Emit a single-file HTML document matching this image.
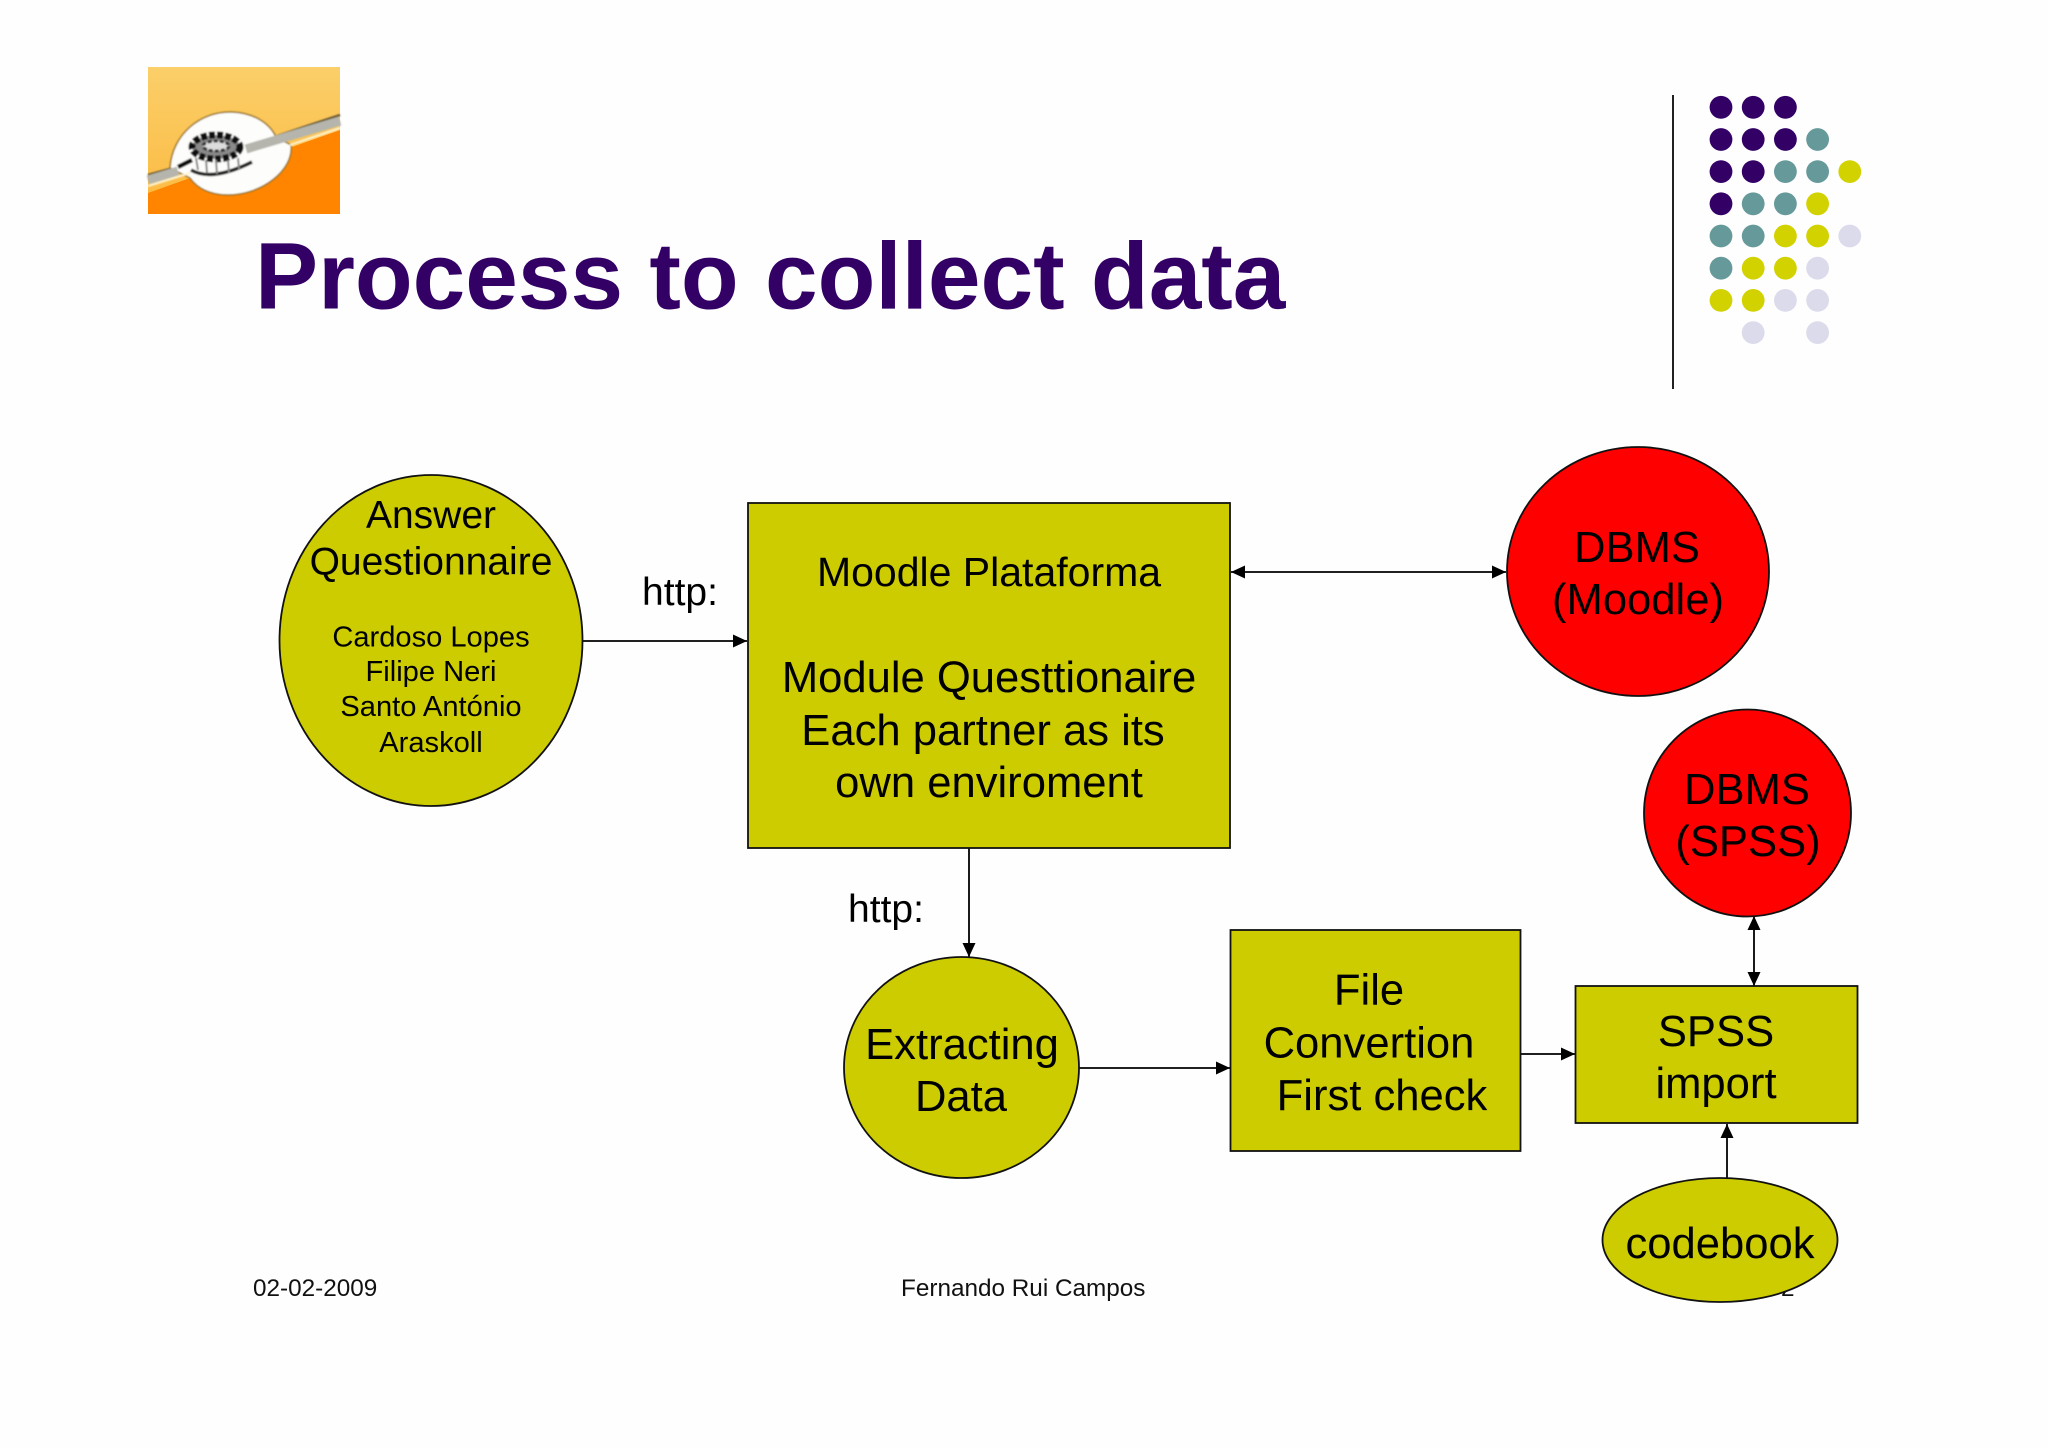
<!DOCTYPE html>
<html><head><meta charset="utf-8"><style>
html,body{margin:0;padding:0;background:#fefefe}
svg{display:block}
text{font-family:"Liberation Sans",sans-serif;fill:#000;font-size:43.6px;text-anchor:middle}
.s{font-size:29.1px}
.m{font-size:39px}
.f{font-size:24.3px;text-anchor:start;fill:#111}
.n{fill:#cccc00;stroke:#111;stroke-width:1.8}
.r{fill:#ff0000;stroke:#111;stroke-width:1.8}
.l{stroke:#000;stroke-width:1.8;fill:none}
</style></head><body>
<svg xmlns="http://www.w3.org/2000/svg" width="2048" height="1447" viewBox="0 0 2048 1447">
<defs>
<linearGradient id="g" x1="0" y1="0" x2="0" y2="1"><stop offset="0" stop-color="#fbcf6a"/><stop offset="1" stop-color="#fbb93f"/></linearGradient>
<marker id="a" markerWidth="14" markerHeight="14" refX="14" refY="6.5" orient="auto" markerUnits="userSpaceOnUse"><path d="M0 0L14 6.5L0 13z" fill="#000"/></marker>
<marker id="b" markerWidth="14" markerHeight="14" refX="0" refY="6.5" orient="auto" markerUnits="userSpaceOnUse"><path d="M14 0L0 6.5L14 13z" fill="#000"/></marker>
<filter id="bl" x="-5%" y="-5%" width="110%" height="110%"><feGaussianBlur stdDeviation="0.8"/></filter>
</defs>
<rect width="2048" height="1447" fill="#fefefe"/>

<!-- logo -->
<rect x="148" y="67" width="192" height="147" fill="url(#g)"/>
<path d="M148 193L190 178L292 147L340 130V214H148z" fill="#ff8500"/>
<g filter="url(#bl)">
<path d="M170 168C172 135 200 111 232 112C255 113 270 124 276 137L291 145C294 170 262 195 228 195C210 195 197 188 190 178z" fill="#fdfdfb" stroke="#9a7420" stroke-width="1.5"/>
<path d="M148 175L170 169M277 136L340 115" stroke="#6b5a30" stroke-width="2.5" fill="none"/>
<path d="M148 180L178 171M246 149L340 121" stroke="#b5b5ad" stroke-width="9" fill="none"/>
<path d="M148 186L190 173M290 145L340 128" stroke="#fff3d0" stroke-width="2" fill="none"/>
<ellipse cx="216" cy="147" rx="24" ry="12" fill="#8a8a8a" stroke="#111" stroke-width="7" stroke-dasharray="6 2"/>
<ellipse cx="216" cy="146" rx="13" ry="5" fill="#ddd" stroke="#333" stroke-width="3" stroke-dasharray="4 2"/>
<path d="M178 167L192 160" stroke="#111" stroke-width="4.5" fill="none"/>
<path d="M191 170Q212 182 252 162" stroke="#222" stroke-width="3.5" fill="none"/>
<path d="M196 158L198 170M206 160L207 173M216 160L217 174M228 160L229 173M238 158L239 169" stroke="#888" stroke-width="2" fill="none"/>
</g>

<!-- title -->
<text x="255" y="308.5" style="text-anchor:start;font-weight:bold;font-size:94.6px;fill:#330066">Process to collect data</text>

<!-- divider + dots -->
<rect x="1672" y="95" width="2" height="294" fill="#222"/>
<g fill="#330066">
<circle cx="1721" cy="107.3" r="11.4"/><circle cx="1753.2" cy="107.3" r="11.4"/><circle cx="1785.4" cy="107.3" r="11.4"/>
<circle cx="1721" cy="139.5" r="11.4"/><circle cx="1753.2" cy="139.5" r="11.4"/><circle cx="1785.4" cy="139.5" r="11.4"/>
<circle cx="1721" cy="171.6" r="11.4"/><circle cx="1753.2" cy="171.6" r="11.4"/>
<circle cx="1721" cy="203.8" r="11.4"/>
</g>
<g fill="#669999">
<circle cx="1817.6" cy="139.5" r="11.4"/>
<circle cx="1785.4" cy="171.6" r="11.4"/><circle cx="1817.6" cy="171.6" r="11.4"/>
<circle cx="1753.2" cy="203.8" r="11.4"/><circle cx="1785.4" cy="203.8" r="11.4"/>
<circle cx="1721" cy="236" r="11.4"/><circle cx="1753.2" cy="236" r="11.4"/>
<circle cx="1721" cy="268.2" r="11.4"/>
</g>
<g fill="#d2d200">
<circle cx="1849.8" cy="171.6" r="11.4"/>
<circle cx="1817.6" cy="203.8" r="11.4"/>
<circle cx="1785.4" cy="236" r="11.4"/><circle cx="1817.6" cy="236" r="11.4"/>
<circle cx="1753.2" cy="268.2" r="11.4"/><circle cx="1785.4" cy="268.2" r="11.4"/>
<circle cx="1721" cy="300.4" r="11.4"/><circle cx="1753.2" cy="300.4" r="11.4"/>
</g>
<g fill="#dbdbeb">
<circle cx="1849.8" cy="236" r="11.4"/>
<circle cx="1817.6" cy="268.2" r="11.4"/>
<circle cx="1785.4" cy="300.4" r="11.4"/><circle cx="1817.6" cy="300.4" r="11.4"/>
<circle cx="1753.2" cy="332.6" r="11.4"/><circle cx="1817.6" cy="332.6" r="11.4"/>
</g>

<!-- footer -->
<text class="f" x="253" y="1296">02-02-2009</text>
<text class="f" x="901" y="1296">Fernando Rui Campos</text>
<text class="f" x="1781" y="1296">2</text>

<!-- connectors -->
<path class="l" d="M583 641H747" marker-end="url(#a)"/>
<path class="l" d="M1231 572H1506" marker-start="url(#b)" marker-end="url(#a)"/>
<path class="l" d="M969 848V957" marker-end="url(#a)"/>
<path class="l" d="M1079 1068H1230" marker-end="url(#a)"/>
<path class="l" d="M1520 1054H1575" marker-end="url(#a)"/>
<path class="l" d="M1754 916V986" marker-start="url(#b)" marker-end="url(#a)"/>
<path class="l" d="M1727 1178V1124" marker-end="url(#a)"/>

<!-- nodes -->
<ellipse class="n" cx="431" cy="640.5" rx="151.5" ry="165.5"/>
<rect class="n" x="748" y="503" width="482" height="345"/>
<ellipse class="r" cx="1638" cy="571.5" rx="131" ry="124.5"/>
<ellipse class="r" cx="1747.5" cy="813" rx="103.5" ry="103.5"/>
<ellipse class="n" cx="961.5" cy="1067.5" rx="117.5" ry="110.5"/>
<rect class="n" x="1230.5" y="930" width="290" height="221"/>
<rect class="n" x="1575.5" y="986" width="282" height="137"/>
<ellipse class="n" cx="1720" cy="1240" rx="117.5" ry="62"/>

<!-- labels -->
<text class="m" x="431" y="528">Answer</text>
<text class="m" x="431" y="574.5">Questionnaire</text>
<text class="s" x="431" y="646.5">Cardoso Lopes</text>
<text class="s" x="431" y="681">Filipe Neri</text>
<text class="s" x="431" y="716">Santo António</text>
<text class="s" x="431" y="752">Araskoll</text>
<text class="m" x="680" y="605">http:</text>
<text class="m" x="886" y="922">http:</text>
<text x="989" y="586" style="font-size:41px">Moodle Plataforma</text>
<text x="989" y="692">Module Questtionaire</text>
<text x="983" y="745">Each partner as its</text>
<text x="989" y="797">own enviroment</text>
<text x="1637" y="562">DBMS</text>
<text x="1638" y="614">(Moodle)</text>
<text x="1747" y="804">DBMS</text>
<text x="1748" y="856">(SPSS)</text>
<text x="962" y="1059">Extracting</text>
<text x="961" y="1111">Data</text>
<text x="1369" y="1004.5">File</text>
<text x="1369" y="1057.5">Convertion</text>
<text x="1382" y="1110">First check</text>
<text x="1716" y="1046">SPSS</text>
<text x="1716" y="1098">import</text>
<text x="1720" y="1258">codebook</text>
</svg>
</body></html>
